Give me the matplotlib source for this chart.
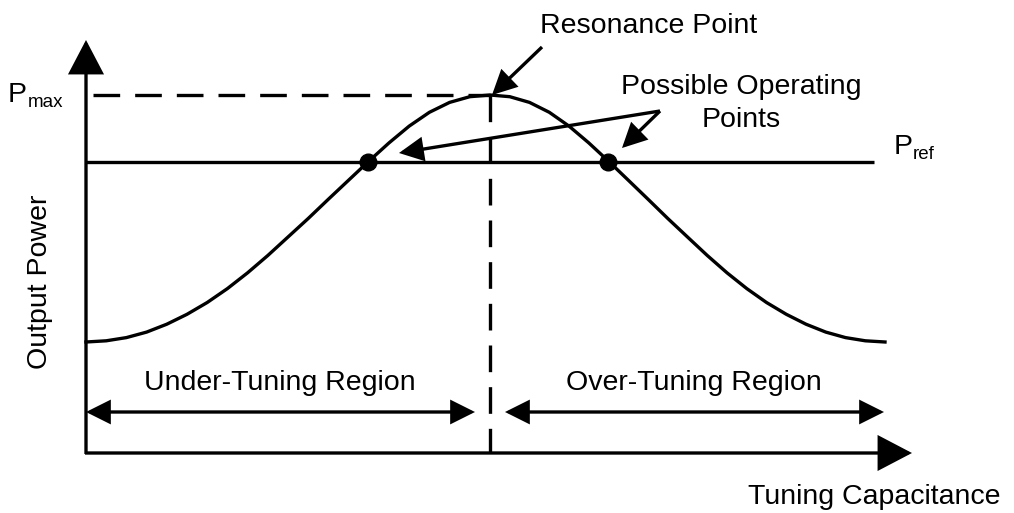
import matplotlib
matplotlib.use("Agg")
from matplotlib import pyplot as plt
from matplotlib.patches import FancyArrowPatch

plt.rcParams["font.family"] = ["Liberation Sans", "DejaVu Sans"]

# power curve (pixel units, y grows downward)
curve_x = [86, 106.2, 126.4, 146.6, 166.8, 187, 207.2, 227.4, 247.6, 267.8,
           288, 308.2, 328.4, 348.6, 368.8, 389, 409.2, 429.4, 449.6, 469.8,
           490,
           509.8, 529.5, 549.3, 569, 588.8, 608.5, 628.3, 648, 667.8, 687.5,
           707.3, 727, 746.8, 766.5, 786.3, 806, 825.8, 845.5, 865.3, 885]
curve_y = [342, 340.8, 337.6, 332.1, 324.2, 314.3, 302.5, 288.6, 272.8, 255.5,
           237, 218.5, 199.2, 180.2, 161.2, 142.9, 126.1, 112.3, 102.4, 96.7,
           95,
           96.7, 102.4, 112.3, 126.1, 142.9, 161.2, 180.2, 199.2, 218.5, 237,
           255.5, 272.8, 288.6, 302.5, 314.3, 324.2, 332.1, 337.6, 340.8, 342]

# levels and key points
p_max = 95
p_ref = 162
resonance_x = 490
operating_x = [368, 608]

# axes frame
origin = (86, 453)
x_axis_end = 912
y_axis_end = 40
region_y = 412
under_region = (86, 475)
over_region = (505, 884)

LW = 2.4
INK = "black"


def arrow(ax, start, end, style, head_len, head_w):
    patch = FancyArrowPatch(start, end,
                            arrowstyle=f"{style},head_length={head_len},head_width={head_w}",
                            mutation_scale=1, shrinkA=0, shrinkB=0,
                            color=INK, lw=LW, joinstyle="miter", capstyle="butt")
    ax.add_patch(patch)


if __name__ == "__main__":
    fig = plt.figure(figsize=(10.14, 5.13), dpi=100)
    ax = fig.add_axes([0, 0, 1, 1])
    ax.set_xlim(0, 1014)
    ax.set_ylim(513, 0)
    ax.axis("off")

    # axes with big arrow heads
    arrow(ax, (origin[0], origin[1] + 1), (origin[0], y_axis_end), "-|>", 21, 11)
    arrow(ax, (origin[0] - 1, origin[1]), (x_axis_end, origin[1]), "-|>", 21, 11)

    # reference power line
    ax.plot([origin[0], 874], [p_ref, p_ref], color=INK, lw=LW, solid_capstyle="butt")

    # dashed guides for the resonance point
    ax.plot([93, resonance_x], [p_max, p_max], color=INK, lw=LW,
            linestyle=(0, (8.0, 4.5)), dash_capstyle="butt")
    ax.plot([resonance_x, resonance_x], [p_max, origin[1]], color=INK, lw=LW,
            linestyle=(0, (8.0, 4.5)), dash_capstyle="butt")

    # output power curve
    ax.plot(curve_x, curve_y, color=INK, lw=LW, solid_joinstyle="round")

    # operating points
    ax.plot(operating_x, [p_ref] * len(operating_x), "o", color=INK, ms=12)

    # region arrows
    arrow(ax, (under_region[0], region_y), (under_region[1], region_y), "<|-|>", 14, 7)
    arrow(ax, (over_region[0], region_y), (over_region[1], region_y), "<|-|>", 14, 7)

    # annotation arrows
    arrow(ax, (542, 47), (492, 95), "-|>", 14, 7)
    arrow(ax, (660, 111), (399, 153), "-|>", 14, 7)
    arrow(ax, (660, 111), (622, 148), "-|>", 14, 7)

    # texts
    fs = 20.5
    ax.text(649, 33, "Resonance Point", fontsize=fs, ha="center", va="baseline")
    ax.text(741, 94, "Possible Operating", fontsize=fs, ha="center", va="baseline")
    ax.text(741, 127, "Points", fontsize=fs, ha="center", va="baseline")
    ax.text(280, 390, "Under-Tuning Region", fontsize=fs, ha="center", va="baseline")
    ax.text(694, 390, "Over-Tuning Region", fontsize=fs, ha="center", va="baseline")
    ax.text(1000, 504, "Tuning Capacitance", fontsize=fs, ha="right", va="baseline")
    ax.text(40, 282, "Output Power", fontsize=fs, ha="center", va="center", rotation=90)

    ax.text(8, 102, "P", fontsize=fs, ha="left", va="baseline")
    ax.text(28, 107, "max", fontsize=13.5, ha="left", va="baseline")
    ax.text(894, 154, "P", fontsize=fs, ha="left", va="baseline")
    ax.text(913, 159, "ref", fontsize=13.5, ha="left", va="baseline")

    fig.savefig("out.png", dpi=100)
